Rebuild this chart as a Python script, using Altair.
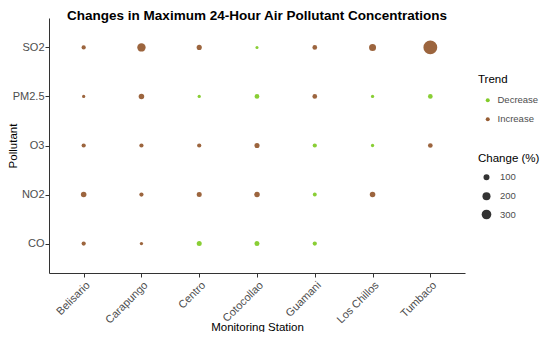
import altair as alt
import pandas as pd

stations = ["Belisario", "Carapungo", "Centro", "Cotocollao", "Guamani", "Los Chillos", "Tumbaco"]
pollutants = ["SO2", "PM2.5", "O3", "NO2", "CO"]

# per-point data
pt_station = (
    ["Belisario", "Carapungo", "Centro", "Cotocollao", "Guamani", "Los Chillos", "Tumbaco"]
    + ["Belisario", "Carapungo", "Centro", "Cotocollao", "Guamani", "Los Chillos", "Tumbaco"]
    + ["Belisario", "Carapungo", "Centro", "Cotocollao", "Guamani", "Los Chillos", "Tumbaco"]
    + ["Belisario", "Carapungo", "Centro", "Cotocollao", "Guamani", "Los Chillos"]
    + ["Belisario", "Carapungo", "Centro", "Cotocollao", "Guamani"]
)
pt_pollutant = ["SO2"] * 7 + ["PM2.5"] * 7 + ["O3"] * 7 + ["NO2"] * 6 + ["CO"] * 5
pt_trend = (
    ["Increase", "Increase", "Increase", "Decrease", "Increase", "Increase", "Increase"]
    + ["Increase", "Increase", "Decrease", "Decrease", "Increase", "Decrease", "Decrease"]
    + ["Increase", "Increase", "Increase", "Increase", "Decrease", "Decrease", "Increase"]
    + ["Increase", "Increase", "Increase", "Increase", "Decrease", "Increase"]
    + ["Increase", "Increase", "Decrease", "Decrease", "Decrease"]
)
pt_change = (
    [35, 220, 65, 5, 50, 145, 650]
    + [10, 80, 10, 50, 50, 10, 50]
    + [35, 35, 35, 65, 35, 10, 50]
    + [80, 35, 60, 80, 25, 80]
    + [35, 10, 60, 60, 35]
)

df = pd.DataFrame({
    "Station": pt_station,
    "Pollutant": pt_pollutant,
    "Trend": pt_trend,
    "Change": pt_change,
})

FONT = "Liberation Sans"

chart = (
    alt.Chart(df)
    .mark_circle(opacity=0.85)
    .encode(
        x=alt.X("Station:N", sort=stations, title="Monitoring Station",
                scale=alt.Scale(type="point", padding=0.6),
                axis=alt.Axis(labelAngle=-45, labelAlign="right", labelBaseline="top",
                              labelPadding=2, titleY=57, titleBaseline="alphabetic")),
        y=alt.Y("Pollutant:N", sort=pollutants, title="Pollutant",
                scale=alt.Scale(type="point", padding=0.6),
                axis=alt.Axis(labelPadding=1, titleX=-36, titleY=127.5, titleBaseline="middle",
                              titleAlign="center", titleAngle=-90)),
        color=alt.Color("Trend:N", title="Trend",
                        scale=alt.Scale(domain=["Decrease", "Increase"], range=["#74C512", "#8B4A1C"]),
                        legend=alt.Legend(orient="none", legendX=429, legendY=56, symbolSize=16,
                                          symbolOffset=5, labelOffset=5, rowPadding=8,
                                          titlePadding=10, padding=0, symbolOpacity=0.9)),
        size=alt.Size("Change:Q", title="Change (%)",
                      scale=alt.Scale(domain=[0, 700], range=[8, 206], zero=False),
                      legend=alt.Legend(orient="none", legendX=429, legendY=135, values=[100, 200, 300],
                                        symbolFillColor="#333333", symbolStrokeWidth=0,
                                        symbolOffset=3.5, labelOffset=8.5, rowPadding=8,
                                        titlePadding=8, padding=0, symbolOpacity=1)),
    )
    .properties(
        width=416, height=255,
        title=alt.Title("Changes in Maximum 24-Hour Air Pollutant Concentrations",
                        fontSize=13.5, fontWeight="bold", font=FONT, color="black",
                        anchor="middle", offset=0, dy=4),
        autosize=alt.AutoSizeParams(type="none"),
        padding={"left": 41, "top": 10, "right": 77, "bottom": 59},
    )
    .configure_view(stroke=None)
    .configure_axis(
        grid=False, domainColor="#333333", tickColor="#333333", tickSize=4,
        labelColor="#4D4D4D", labelFontSize=11, labelFont=FONT,
        titleColor="black", titleFontSize=11.5, titleFont=FONT, titleFontWeight="normal",
    )
    .configure_legend(
        titleFont=FONT, titleFontSize=11.5, titleFontWeight="normal", titleColor="black",
        labelFont=FONT, labelFontSize=9.5, labelColor="#4D4D4D",
    )
)

chart.save("out.html", embed_options={"renderer": "svg", "actions": False})
